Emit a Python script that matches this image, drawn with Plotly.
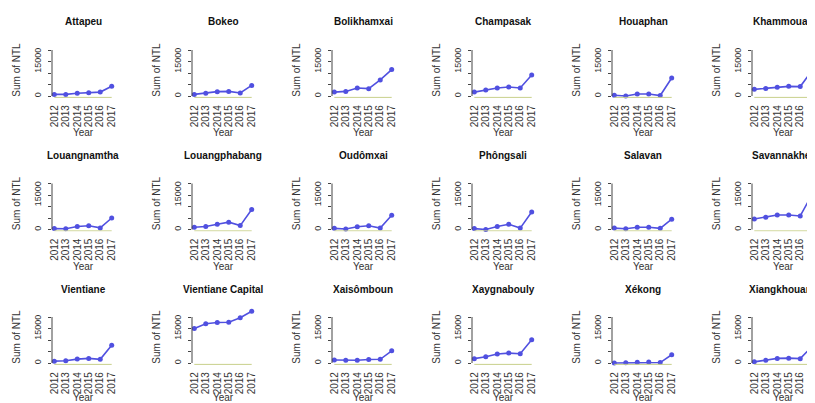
import plotly.graph_objects as go

years = [2012, 2013, 2014, 2015, 2016, 2017]
provinces = ["Attapeu", "Bokeo", "Bolikhamxai", "Champasak", "Houaphan", "Khammouan",
             "Louangnamtha", "Louangphabang", "Oudômxai", "Phôngsali", "Salavan", "Savannakhét",
             "Vientiane", "Vientiane Capital", "Xaisômboun", "Xaygnabouly", "Xékong", "Xiangkhouang"]
ntl = {
    "Attapeu":           [700, 700, 1200, 1400, 1700, 4200],
    "Bokeo":             [700, 1200, 1900, 2000, 1300, 4600],
    "Bolikhamxai":       [1700, 2000, 3500, 3200, 7000, 11500],
    "Champasak":         [1700, 2600, 3500, 3900, 3500, 9100],
    "Houaphan":          [300, 0, 900, 900, 200, 7800],
    "Khammouan":         [2900, 3300, 3800, 4200, 4100, 10900],
    "Louangnamtha":      [400, 300, 1300, 1600, 700, 5000],
    "Louangphabang":     [1000, 1300, 2300, 3200, 1700, 8700],
    "Oudômxai":          [500, 200, 1200, 1600, 600, 6200],
    "Phôngsali":         [400, 0, 1300, 2300, 600, 7600],
    "Salavan":           [600, 300, 1000, 1000, 500, 4500],
    "Savannakhét":       [4600, 5300, 6300, 6300, 5900, 14900],
    "Vientiane":         [800, 1000, 1700, 2000, 1600, 7700],
    "Vientiane Capital": [15000, 17100, 17600, 17700, 19700, 22500],
    "Xaisômboun":        [1300, 1200, 1200, 1500, 1600, 5300],
    "Xaygnabouly":       [1900, 2700, 3900, 4300, 4000, 10100],
    "Xékong":            [0, 100, 300, 400, 200, 3600],
    "Xiangkhouang":      [500, 1200, 2000, 2100, 1900, 7000],
}
ytick_vals = [0, 5000, 10000, 15000, 20000]
ytick_text = ["0", "", "", "15000", ""]

# page body has an 8px margin; work in figure coordinates = reference - 8
OFF = 8
W, H = 815 - OFF, 403 - OFF
fig = go.Figure()
font = "Liberation Sans, Arial, sans-serif"
line_col = "#5050e0"
px_per_year = 62 / 5.4

for i, p in enumerate(provinces):
    r, c = divmod(i, 6)
    n = i + 1
    xa = "x" if n == 1 else f"x{n}"
    ya = "y" if n == 1 else f"y{n}"
    left = 52 + 140 * c - OFF
    right = min(left + 62, W)
    xmax = 2011.8 + (right - left) / px_per_year
    base = 96 + 133.5 * r - OFF
    bottom = base + 2.07
    top = base - 54.05
    fig.add_trace(go.Scatter(x=years, y=ntl[p], mode="lines+markers",
                             line=dict(color=line_col, width=1.6),
                             marker=dict(color=line_col, size=5),
                             xaxis=xa, yaxis=ya, showlegend=False, cliponaxis=False))
    fig.layout[f"xaxis{'' if n == 1 else n}"] = dict(
        domain=[left / W, right / W], anchor=ya, range=[2011.8, xmax], automargin=False,
        tickvals=years, ticktext=[str(y) for y in years], tickangle=-90,
        tickfont=dict(size=10, color="#333", family=font), showgrid=False,
        zeroline=False, showline=False, ticks="", ticklen=0, ticklabelstandoff=4,
        title=dict(text="Year", font=dict(size=10, color="#333", family=font), standoff=2))
    fig.layout[f"yaxis{'' if n == 1 else n}"] = dict(
        domain=[1 - bottom / H, 1 - top / H], anchor=xa, range=[-900, 23500], automargin=False,
        tickvals=ytick_vals, ticktext=ytick_text, tickangle=-90,
        tickfont=dict(size=9, color="#333", family=font), showgrid=False,
        zeroline=False, showline=False, ticks="outside", ticklen=3, tickcolor="#444",
        ticklabelstandoff=3,
        title=dict(text="Sum of NTL", font=dict(size=10, color="#333", family=font), standoff=10))
    fig.add_shape(type="line", xref=f"{xa} domain", yref=ya, x0=0, x1=0, y0=0, y1=20000,
                  line=dict(color="#444", width=1))
    fig.add_shape(type="line", xref=xa, yref=ya, x0=2012, x1=2017, y0=-600, y1=-600,
                  line=dict(color="#c8d08a", width=1))
    fig.add_annotation(text=f"<b>{p}</b>", x=(left + 31) / W, y=1 - (base - 74) / H,
                       xref="paper", yref="paper", showarrow=False,
                       xanchor="center", yanchor="middle",
                       font=dict(size=10, color="#111", family=font))

fig.update_layout(width=W, height=H, margin=dict(l=0, r=0, t=0, b=0),
                  plot_bgcolor="white", paper_bgcolor="white")
fig.write_html("out.html")
